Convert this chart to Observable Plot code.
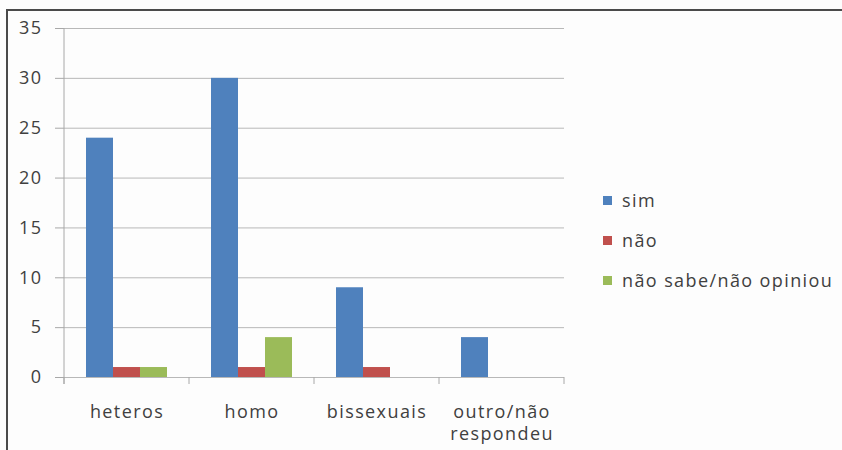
<!DOCTYPE html>
<html>
<head>
<meta charset="utf-8">
<script src="https://cdn.jsdelivr.net/npm/d3@7"></script>
<script src="https://cdn.jsdelivr.net/npm/@observablehq/plot@0.6"></script>
<style>
  html, body { margin: 0; padding: 0; background: #fdfdfd; }
  #wrap { position: relative; width: 842px; height: 450px; overflow: hidden; }
  #border { position: absolute; left: 6px; top: 9px; right: -10px; bottom: -10px;
            border-top: 2px solid #4a4a4a; border-left: 2px solid #4a4a4a; }
  #chart { position: absolute; left: 0; top: 0; }
  #legend { position: absolute; left: 603px; top: 180px; font-family: "Open Sans", sans-serif;
            font-size: 18px; letter-spacing: 1.4px; color: #404040; }
  .item { height: 40px; display: flex; align-items: center; white-space: nowrap; }
  .sw { width: 9px; height: 9px; margin-right: 10px; }
</style>
</head>
<body>
<div id="wrap">
  <div id="border"></div>
  <div id="chart"></div>
  <div id="legend"></div>
</div>
<script>
const categories = ["heteros", "homo", "bissexuais", "outro/não respondeu"];
const series = ["sim", "não", "não sabe/não opiniou"];
const sim = [24, 30, 9, 4];
const nao = [1, 1, 1, 0];
const naoSabe = [1, 4, 0, 0];
const yTicks = [0, 5, 10, 15, 20, 25, 30, 35];
const colors = ["#4F81BD", "#C0504D", "#9BBB59"];

const seriesValues = [sim, nao, naoSabe];
const data = categories.flatMap((c, i) =>
  series.map((s, j) => ({category: c, series: s, value: seriesValues[j][i]})));

const font = "'Open Sans', sans-serif";
const chart = Plot.plot({
  width: 842,
  height: 450,
  marginLeft: 63,
  marginRight: 277,
  marginTop: 28,
  marginBottom: 73,
  style: {fontFamily: font, background: "transparent", letterSpacing: "1.4px", color: "#404040"},
  fx: {domain: categories, padding: 0, label: null},
  x: {domain: series, paddingInner: 0, paddingOuter: 0.77, axis: null},
  y: {domain: [0, 35], label: null},
  color: {domain: series, range: colors},
  marks: [
    Plot.gridY(yTicks, {stroke: "#b8b8b8", strokeOpacity: 1, strokeWidth: 1}),
    Plot.axisY(yTicks, {tickSize: 9, tickPadding: 13, fontSize: 18, stroke: "#a8a8a8", fill: "#404040", label: null}),
    Plot.axisFx({anchor: "bottom", tickSize: 0, tickPadding: 25, fontSize: 18, lineHeight: 1.22,
                 fill: "#404040", label: null, tickFormat: d => d.replace(" ", "\n")}),
    Plot.barY(data, {fx: "category", x: "series", y: "value", fill: "series"})
  ]
});
document.getElementById("chart").appendChild(chart);

// Axis line and category boundary ticks, placed with Plot's own scales
const fx = chart.scale("fx");
const y = chart.scale("y");
const svg = d3.select(chart);
const g = svg.append("g").attr("stroke", "#a8a8a8").attr("stroke-width", 1);
const x0 = fx.apply(categories[0]);
g.append("line").attr("x1", x0).attr("x2", x0).attr("y1", y.apply(35)).attr("y2", y.apply(0) + 7);
const bounds = categories.map(c => fx.apply(c)).concat([fx.apply(categories[categories.length - 1]) + fx.bandwidth]);
bounds.forEach(b => {
  g.append("line").attr("x1", b).attr("x2", b).attr("y1", y.apply(0)).attr("y2", y.apply(0) + 7);
});

// Legend
const legend = document.getElementById("legend");
series.forEach((s, i) => {
  const item = document.createElement("div");
  item.className = "item";
  const sw = document.createElement("span");
  sw.className = "sw";
  sw.style.background = colors[i];
  const t = document.createElement("span");
  t.textContent = s;
  item.appendChild(sw);
  item.appendChild(t);
  legend.appendChild(item);
});
</script>
</body>
</html>
